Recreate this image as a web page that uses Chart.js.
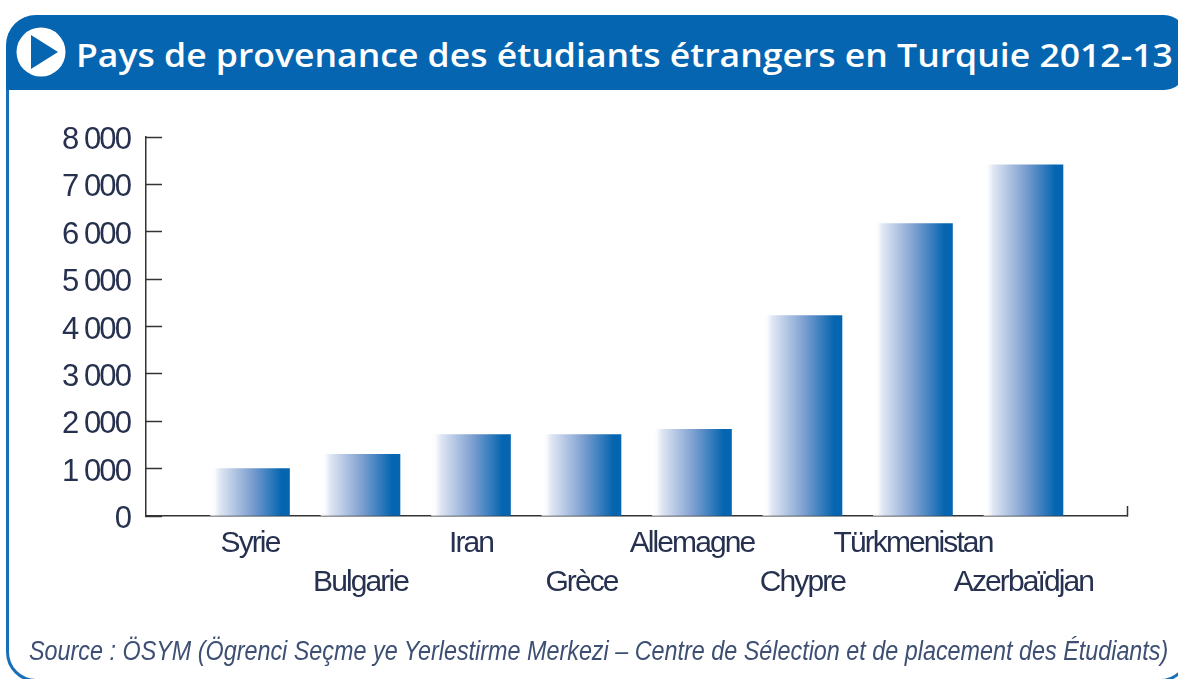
<!DOCTYPE html>
<html><head><meta charset="utf-8">
<script src="https://cdn.jsdelivr.net/npm/chart.js@4"></script>
<style>
html,body{margin:0;padding:0;background:#fff;width:1178px;height:679px;overflow:hidden}
#wrap{position:relative;width:1178px;height:679px;overflow:hidden}
#frame{position:absolute;left:6px;top:40px;width:1184px;height:642px;border:3px solid #1a70b8;border-radius:30px;box-sizing:border-box}
#head{position:absolute;left:6px;top:15px;width:1180px;height:75px;background:#0565b0;border-radius:30px 22px 22px 0}
#icon{position:absolute;left:16px;top:27px}
#title{position:absolute;left:76px;top:32px;color:#fff;font:600 33px "Open Sans",sans-serif;white-space:nowrap;transform-origin:0 50%;transform:scaleX(1.077)}
#src{position:absolute;left:29px;top:636px;color:#3d4f73;font:italic 27px "Liberation Sans",sans-serif;white-space:nowrap;transform-origin:0 50%;transform:scaleX(.865)}
canvas{position:absolute;left:0;top:0}
</style></head><body><div id="wrap">
<div id="frame"></div><div id="head"></div>
<svg id="icon" width="50" height="50" viewBox="0 0 50 50"><circle cx="25" cy="25" r="24.5" fill="#fff"/><path d="M15 8 L42 25 L15 42 Z" fill="#0565b0"/></svg>
<div id="title">Pays de provenance des étudiants étrangers en Turquie 2012-13</div>
<canvas id="c" width="1178" height="679"></canvas>
<div id="src">Source : ÖSYM (Ögrenci Seçme ye Yerlestirme Merkezi – Centre de Sélection et de placement des Étudiants)</div>
</div>
<script>
const categories=["Syrie","Bulgarie","Iran","Grèce","Allemagne","Chypre","Türkmenistan","Azerbaïdjan"];
const students=[1000,1300,1720,1720,1830,4230,6170,7410];
const yTicks=[0,1000,2000,3000,4000,5000,6000,7000,8000];
const AXIS_FONT='"Liberation Sans",sans-serif';
const BAR_PX=79, X_MIN=0.0588, X_MAX=8.937;
const narrowText={id:'narrowText',beforeDraw(chart){chart.ctx.letterSpacing='-1.9px';}};
function barFill(ctx){
  if(ctx.type!=='data'||!ctx.chart.scales.x)return '#0565b0';
  const cx=ctx.chart.scales.x.getPixelForValue(ctx.parsed.x);
  if(!isFinite(cx))return '#0565b0';
  const g=ctx.chart.ctx.createLinearGradient(cx-BAR_PX/2,0,cx+BAR_PX/2,0);
  g.addColorStop(0,'#ffffff');g.addColorStop(.05,'#fbfcfe');g.addColorStop(.12,'#dfe6f3');g.addColorStop(.52,'#7d9fd0');g.addColorStop(.9,'#0565b0');g.addColorStop(1,'#0565b0');
  return g;
}
new Chart(document.getElementById('c'),{
  type:'bar',
  data:{datasets:[{data:students.map((v,i)=>({x:i+1,y:v})),backgroundColor:barFill,barThickness:BAR_PX,borderWidth:0}]},
  plugins:[narrowText],
  options:{responsive:false,animation:false,
    layout:{padding:{left:0,right:51,top:137,bottom:0}},
    plugins:{legend:{display:false},tooltip:{enabled:false},title:{display:false}},
    scales:{
      x:{type:'linear',min:X_MIN,max:X_MAX,offset:false,
        afterBuildTicks(s){s.ticks=categories.map((_,i)=>({value:i+1})).concat({value:X_MAX});},
        afterFit(s){s.height=163;},
        border:{color:'#333',width:1.5},
        grid:{display:true,offset:false,drawOnChartArea:false,drawTicks:true,tickLength:-10,tickWidth:1.5,
          tickColor(c){return c.tick&&c.tick.value===X_MAX?'#333':'rgba(0,0,0,0)';}},
        ticks:{autoSkip:false,maxRotation:0,minRotation:0,padding:18,color:'#26304f',font:{family:AXIS_FONT,size:30,lineHeight:1.3},
          callback(v){const c=categories[v-1];if(!c)return '';return (v-1)%2?['',c]:[c,''];}}
      },
      y:{min:0,max:8000,
        afterBuildTicks(s){s.ticks=yTicks.map(v=>({value:v}));},
        afterFit(s){s.width=146;},
        border:{color:'#333',width:1.5},
        grid:{drawOnChartArea:false,drawTicks:true,tickLength:-16,tickColor:'#333',tickWidth:1.5},
        ticks:{padding:32,labelOffset:3.5,color:'#26304f',font:{family:AXIS_FONT,size:31},
          callback(v){return v===0?'0':String(v/1000)+' 000';}}
      }
    }
  }
});
</script></body></html>
